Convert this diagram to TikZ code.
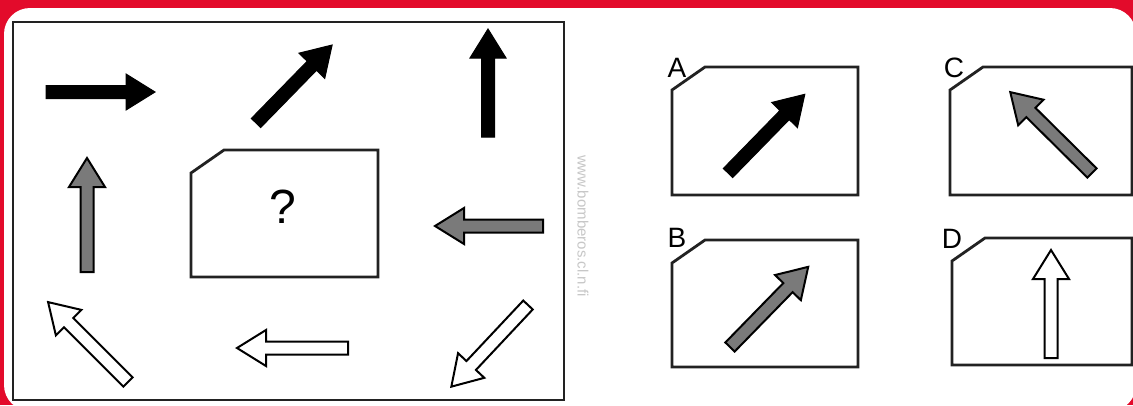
\documentclass[tikz,border=0pt]{standalone}
\usepackage{fontspec}
\setmainfont{Liberation Sans}
\definecolor{bgred}{HTML}{E30B2B}
\definecolor{edge}{HTML}{222222}
\definecolor{midgray}{HTML}{7A7A7A}
\newcommand\blockarr[5]{%
  \begin{scope}[shift={(#2,#3)},rotate=#4]
    \path[#1] (0,-6.5) -- ({#5-29},-6.5) -- ({#5-29},-18) -- (#5,0) -- ({#5-29},18) -- ({#5-29},6.5) -- (0,6.5) -- cycle;
  \end{scope}}
\newcommand\chambox[4]{%
  \draw[panel] (#1,{#2+23}) -- ({#1+33},#2) -- (#3,#2) -- (#3,#4) -- (#1,#4) -- cycle;}
\tikzset{
  panel/.style={draw=edge, line width=2.8pt, line join=miter},
  blackarr/.style={fill=black, draw=black, line width=1pt, line join=miter},
  grayarr/.style={fill=midgray, draw=black, line width=2pt, line join=miter},
  whitearr/.style={fill=white, draw=black, line width=2pt, line join=miter},
  optlabel/.style={font=\fontsize{28}{28}\selectfont, text=black, inner sep=0pt},
}
\begin{document}
\begin{tikzpicture}[x=1pt,y=-1pt]
  \useasboundingbox (0,0) rectangle (1133,405);
  \fill[bgred] (0,0) rectangle (1133,405);
  \fill[white, rounded corners=26pt] (4,8) rectangle (1136,411);

  % left puzzle frame
  \draw[panel] (13,22) rectangle (564,400);
  \chambox{191}{150}{378}{277}
  \node[font=\fontsize{48}{48}\selectfont, inner sep=0pt] (q) at (283,207) {?};

  % arrows of the puzzle
  \blockarr{blackarr}{46}{92}{0}{109}
  \blockarr{blackarr}{256}{123}{45.7}{109}
  \blockarr{blackarr}{488}{137}{90}{108}
  \blockarr{grayarr}{87}{272}{90}{114}
  \blockarr{grayarr}{543}{226}{180}{108}
  \blockarr{whitearr}{128}{382}{135}{113}
  \blockarr{whitearr}{348}{348}{180}{111}
  \blockarr{whitearr}{528}{305}{226.8}{112}

  % watermark
  \node[rotate=-90, text=black!22, font=\fontsize{15}{15}\selectfont, inner sep=0pt] (wm) at (583,226) {www.bomberos.cl.n.fi};

  % options
  \chambox{672}{67}{858}{195}
  \chambox{672}{240}{858}{367}
  \chambox{950}{67}{1132}{195}
  \chambox{952}{238}{1132}{365}

  \blockarr{blackarr}{728}{173}{45.7}{110}
  \blockarr{grayarr}{730}{347}{45.7}{112}
  \blockarr{grayarr}{1092}{173}{135.3}{115}
  \blockarr{whitearr}{1051}{358}{90}{108}

  \node[optlabel] (la) at (677,68) {A};
  \node[optlabel] (lb) at (677,238) {B};
  \node[optlabel] (lc) at (954,68) {C};
  \node[optlabel] (ld) at (952,239) {D};
\end{tikzpicture}
\end{document}
